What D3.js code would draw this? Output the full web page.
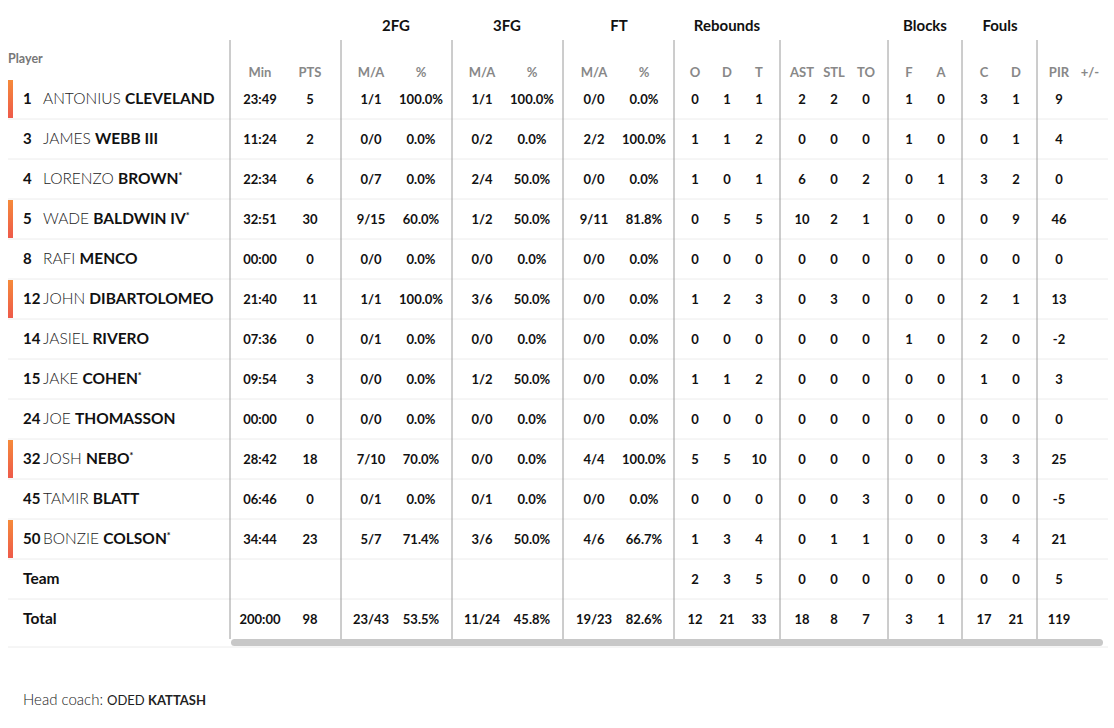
<!DOCTYPE html>
<html><head><meta charset="utf-8">
<script src="https://cdn.jsdelivr.net/npm/d3@7"></script>
<style>body{margin:0;background:#fff;font-family:Lato,"Open Sans",sans-serif}</style>
</head><body><svg id="c" width="1114" height="728"></svg>
<script>
const numbers=["1","3","4","5","8","12","14","15","24","32","45","50","",""];
const firstNames=["ANTONIUS","JAMES","LORENZO","WADE","RAFI","JOHN","JASIEL","JAKE","JOE","JOSH","TAMIR","BONZIE","",""];
const lastNames=["CLEVELAND","WEBB III","BROWN","BALDWIN IV","MENCO","DIBARTOLOMEO","RIVERO","COHEN","THOMASSON","NEBO","BLATT","COLSON","Team","Total"];
const starters=[false,false,true,true,false,false,false,true,false,true,false,true,false,false];
const highlighted=[true,false,false,true,false,true,false,false,false,true,false,true,false,false];
const columns=["Min","PTS","M/A","%","M/A","%","M/A","%","O","D","T","AST","STL","TO","F","A","C","D","PIR","+/-"];
const groups=[["2FG",2,3],["3FG",4,5],["FT",6,7],["Rebounds",8,10],["Blocks",14,15],["Fouls",16,17]];
const stats=[
["23:49","5","1/1","100.0%","1/1","100.0%","0/0","0.0%","0","1","1","2","2","0","1","0","3","1","9",""],
["11:24","2","0/0","0.0%","0/2","0.0%","2/2","100.0%","1","1","2","0","0","0","1","0","0","1","4",""],
["22:34","6","0/7","0.0%","2/4","50.0%","0/0","0.0%","1","0","1","6","0","2","0","1","3","2","0",""],
["32:51","30","9/15","60.0%","1/2","50.0%","9/11","81.8%","0","5","5","10","2","1","0","0","0","9","46",""],
["00:00","0","0/0","0.0%","0/0","0.0%","0/0","0.0%","0","0","0","0","0","0","0","0","0","0","0",""],
["21:40","11","1/1","100.0%","3/6","50.0%","0/0","0.0%","1","2","3","0","3","0","0","0","2","1","13",""],
["07:36","0","0/1","0.0%","0/0","0.0%","0/0","0.0%","0","0","0","0","0","0","1","0","2","0","-2",""],
["09:54","3","0/0","0.0%","1/2","50.0%","0/0","0.0%","1","1","2","0","0","0","0","0","1","0","3",""],
["00:00","0","0/0","0.0%","0/0","0.0%","0/0","0.0%","0","0","0","0","0","0","0","0","0","0","0",""],
["28:42","18","7/10","70.0%","0/0","0.0%","4/4","100.0%","5","5","10","0","0","0","0","0","3","3","25",""],
["06:46","0","0/1","0.0%","0/1","0.0%","0/0","0.0%","0","0","0","0","0","3","0","0","0","0","-5",""],
["34:44","23","5/7","71.4%","3/6","50.0%","4/6","66.7%","1","3","4","0","1","1","0","0","3","4","21",""],
["","","","","","","","","2","3","5","0","0","0","0","0","0","0","5",""],
["200:00","98","23/43","53.5%","11/24","45.8%","19/23","82.6%","12","21","33","18","8","7","3","1","17","21","119",""]
];
const colX=[260,310,371,421,482,532,594,644,695,727,759,802,834,866,909,941,984,1016,1059,1090];
const dividers=[230,341,452,563,674,780,888,962,1037];
const svg=d3.select("#c");
const y=d3.scaleBand().domain(d3.range(14)).range([79,639]);
const x=d3.scaleOrdinal().domain(d3.range(columns.length)).range(colX);
svg.selectAll(".sep").data(d3.range(13)).join("line")
 .attr("x1",8).attr("x2",1108).attr("y1",i=>y(i)+y.bandwidth()).attr("y2",i=>y(i)+y.bandwidth())
 .attr("stroke","#ececec");
svg.append("line").attr("x1",8).attr("x2",1108).attr("y1",647).attr("y2",647).attr("stroke","#ececec");
svg.selectAll(".div").data(dividers).join("line")
 .attr("x1",d=>d).attr("x2",d=>d).attr("y1",40).attr("y2",639).attr("stroke","#9a9a9a");
svg.append("rect").attr("x",231).attr("y",639).attr("width",872).attr("height",7).attr("rx",3.5).attr("fill","#c8c8c8");
const grad=svg.append("defs").append("linearGradient").attr("id","og").attr("x1",0).attr("x2",0).attr("y1",0).attr("y2",1);
grad.append("stop").attr("offset","0").attr("stop-color","#f58a3a");
grad.append("stop").attr("offset","1").attr("stop-color","#ee5a4a");
svg.selectAll(".hb").data(d3.range(14).filter(i=>highlighted[i])).join("rect")
 .attr("x",8).attr("width",5).attr("y",i=>y(i)+1).attr("height",y.bandwidth()-2).attr("fill","url(#og)");
svg.append("text").attr("x",8).attr("y",63).attr("font-size",12.5).attr("font-weight",700).attr("fill","#777").text("Player");
svg.selectAll(".gh").data(groups).join("text")
 .attr("x",g=>(colX[g[1]]+colX[g[2]])/2).attr("y",31).attr("text-anchor","middle")
 .attr("font-size",15).attr("font-weight",700).attr("fill","#111").text(g=>g[0]);
svg.selectAll(".ch").data(columns).join("text")
 .attr("x",(d,i)=>x(i)).attr("y",77).attr("text-anchor","middle")
 .attr("font-size",13).attr("font-weight",700).attr("fill","#888").text(d=>d);
const rows=svg.selectAll(".row").data(d3.range(14)).join("g").attr("transform",i=>`translate(0,${y(i)+y.bandwidth()/2+5})`);
rows.append("text").attr("x",23).attr("font-size",15).attr("font-weight",700).attr("fill","#111").text(i=>numbers[i]);
const nm=rows.append("text").attr("x",i=>numbers[i]?43:23).attr("font-size",15.5).attr("fill","#111");
nm.append("tspan").attr("fill","#222").attr("font-weight",300).text(i=>firstNames[i]?firstNames[i]+" ":"");
nm.append("tspan").attr("font-weight",700).text(i=>lastNames[i]);
nm.append("tspan").attr("font-size",9).attr("font-weight",700).attr("dy",-5).text(i=>starters[i]?"*":"");
rows.each(function(i){
  d3.select(this).selectAll(".v").data(stats[i]).join("text")
   .attr("x",(d,j)=>x(j)).attr("text-anchor","middle").attr("font-size",13).attr("font-weight",700).attr("fill","#111")
   .attr("dy",0).text(d=>d);
});
const hc=svg.append("text").attr("x",23).attr("y",705).attr("font-size",15).attr("fill","#222");
hc.append("tspan").attr("font-weight",300).text("Head coach: ");
hc.append("tspan").attr("font-size",13).text("ODED ");
hc.append("tspan").attr("font-size",13).attr("font-weight",700).text("KATTASH");
</script></body></html>
